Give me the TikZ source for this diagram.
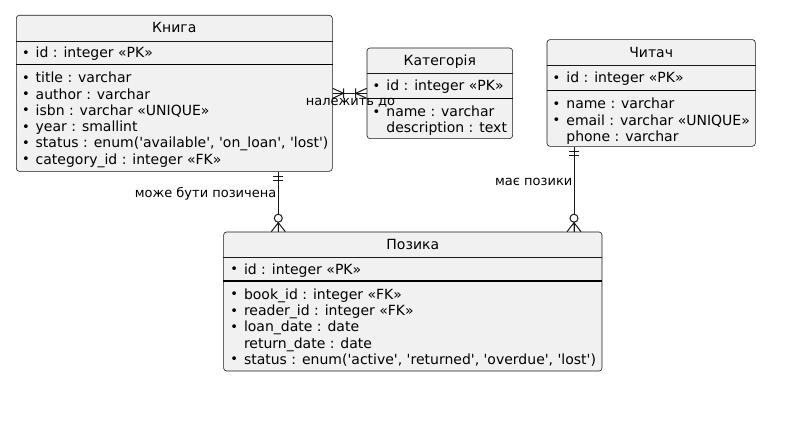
\documentclass[tikz,border=0pt]{standalone}
\usepackage{fontspec}
\setmainfont{DejaVu Sans}
\usetikzlibrary{positioning}
\definecolor{entfill}{HTML}{F1F1F1}
\definecolor{entline}{HTML}{181818}
\newcommand{\bul}{\llap{\raisebox{0.5pt}{\fontsize{13}{13}\selectfont •}\hspace{6pt}}}
\newcommand{\sq}{\textquotesingle}
\tikzstyle{entity} = [rectangle, rounded corners=3pt, draw=entline, line width=0.6pt, fill=entfill, inner sep=0pt, anchor=north west]
\tikzstyle{ttl} = [font=\fontsize{14}{16.3}\selectfont, inner sep=0pt, anchor=base]
\tikzstyle{pkfield} = [font=\fontsize{14}{16.3}\selectfont, inner sep=0pt, anchor=base west]
\tikzstyle{fields} = [font=\fontsize{14}{16.3}\selectfont, align=left, inner sep=0pt, anchor=north west]
\tikzstyle{lbl} = [font=\fontsize{13}{15}\selectfont, inner sep=0pt]
\tikzstyle{thinsep} = [draw=entline, line width=0.5pt]
\tikzstyle{pksep} = [draw=black, line width=1.1pt]
\tikzstyle{rel} = [draw=entline, line width=1pt]
\tikzset{
  onlyone/.pic={\draw [rel] (5,-5) -- (5,5) (9,-5) -- (9,5);},
  onemany/.pic={\draw [rel] (0,-5) -- (11,0) -- (0,5) (11,-5) -- (11,5);},
  zeromany/.pic={\draw [rel] (0,-7) -- (9,0) -- (0,7) (0,0) -- (9.5,0);
                 \draw [rel, fill=white] (13.5,0) circle (4pt);}
}
\begin{document}
\begin{tikzpicture}[x=1pt, y=-1pt]
      \useasboundingbox (0,0) rectangle (801,428);

      % entities
      \node (book) [entity, minimum width=316pt, minimum height=156pt] at (16,15) {};
      \node (cat) [entity, minimum width=145.6pt, minimum height=90.6pt] at (366.7,47.7) {};
      \node (reader) [entity, minimum width=208.3pt, minimum height=106.7pt] at (546.7,39.3) {};
      \node (loan) [entity, minimum width=378.4pt, minimum height=139pt] at (223.3,231.7) {};

      \draw [thinsep] (book.west |- 0,41) -- (book.east |- 0,41);
      \draw [pksep] (book.west |- 0,64.5) -- (book.east |- 0,64.5);
      \draw [thinsep] (cat.west |- 0,73.3) -- (cat.east |- 0,73.3);
      \draw [pksep] (cat.west |- 0,98.3) -- (cat.east |- 0,98.3);
      \draw [thinsep] (reader.west |- 0,65) -- (reader.east |- 0,65);
      \draw [pksep] (reader.west |- 0,90.7) -- (reader.east |- 0,90.7);
      \draw [thinsep] (loan.west |- 0,257.3) -- (loan.east |- 0,257.3);
      \draw [pksep] (loan.west |- 0,281) -- (loan.east |- 0,281);

      % Книга
      \node (book-t) [ttl] at (book.north |- 0,33) {Книга};
      \node (book-pk) [pkfield] at (35.5,57.9) {\bul id : integer «PK»};
      \node (book-f) [fields] at (35.5,71.1) {\strut\bul title : varchar\\
        \bul author : varchar\\
        \bul isbn : varchar «UNIQUE»\\
        \bul year : smallint\\
        \bul status : enum(\sq available\sq, \sq on\_loan\sq, \sq lost\sq)\\
        \bul category\_id : integer «FK»};

      % Категорія
      \node (cat-t) [ttl] at (cat.north |- 0,65.5) {Категорія};
      \node (cat-pk) [pkfield] at (386.2,90.9) {\bul id : integer «PK»};
      \node (cat-f) [fields] at (386.2,104.9) {\strut\bul name : varchar\\
        description : text};

      % Читач
      \node (reader-t) [ttl] at (reader.north |- 0,57.2) {Читач};
      \node (reader-pk) [pkfield] at (566.2,82.9) {\bul id : integer «PK»};
      \node (reader-f) [fields] at (566.2,97.3) {\strut\bul name : varchar\\
        \bul email : varchar «UNIQUE»\\
        phone : varchar};

      % Позика
      \node (loan-t) [ttl] at (loan.north |- 0,249.5) {Позика};
      \node (loan-pk) [pkfield] at (243.8,274.2) {\bul id : integer «PK»};
      \node (loan-f) [fields] at (243.8,287.6) {\strut\bul book\_id : integer «FK»\\
        \bul reader\_id : integer «FK»\\
        \bul loan\_date : date\\
        return\_date : date\\
        \bul status : enum(\sq active\sq, \sq returned\sq, \sq overdue\sq, \sq lost\sq)};

      % relations
      \coordinate (bookloan) at ([xshift=55pt]loan.north west);
      \coordinate (readerloan) at ([xshift=27.3pt]reader.south west);

      \draw [rel] (book.east |- cat.west) -- (cat.west);
      \draw [rel] (bookloan |- book.south) -- (bookloan);
      \draw [rel] (readerloan) -- (readerloan |- loan.north);

      \path (book.east |- cat.west) pic {onemany};
      \path (cat.west) pic[rotate=180] {onemany};
      \path (bookloan |- book.south) pic[rotate=-90] {onlyone};
      \path (bookloan) pic[rotate=90] {zeromany};
      \path (readerloan) pic[rotate=-90] {onlyone};
      \path (readerloan |- loan.north) pic[rotate=90] {zeromany};

      \node (rel-cat) [lbl, anchor=base] at (350.5,105.5) {належить до};
      \node (rel-book) [lbl, anchor=base east] at (276.5,197) {може бути позичена};
      \node (rel-reader) [lbl, anchor=base east] at (572.5,185.5) {має позики};
    \end{tikzpicture}
\end{document}
